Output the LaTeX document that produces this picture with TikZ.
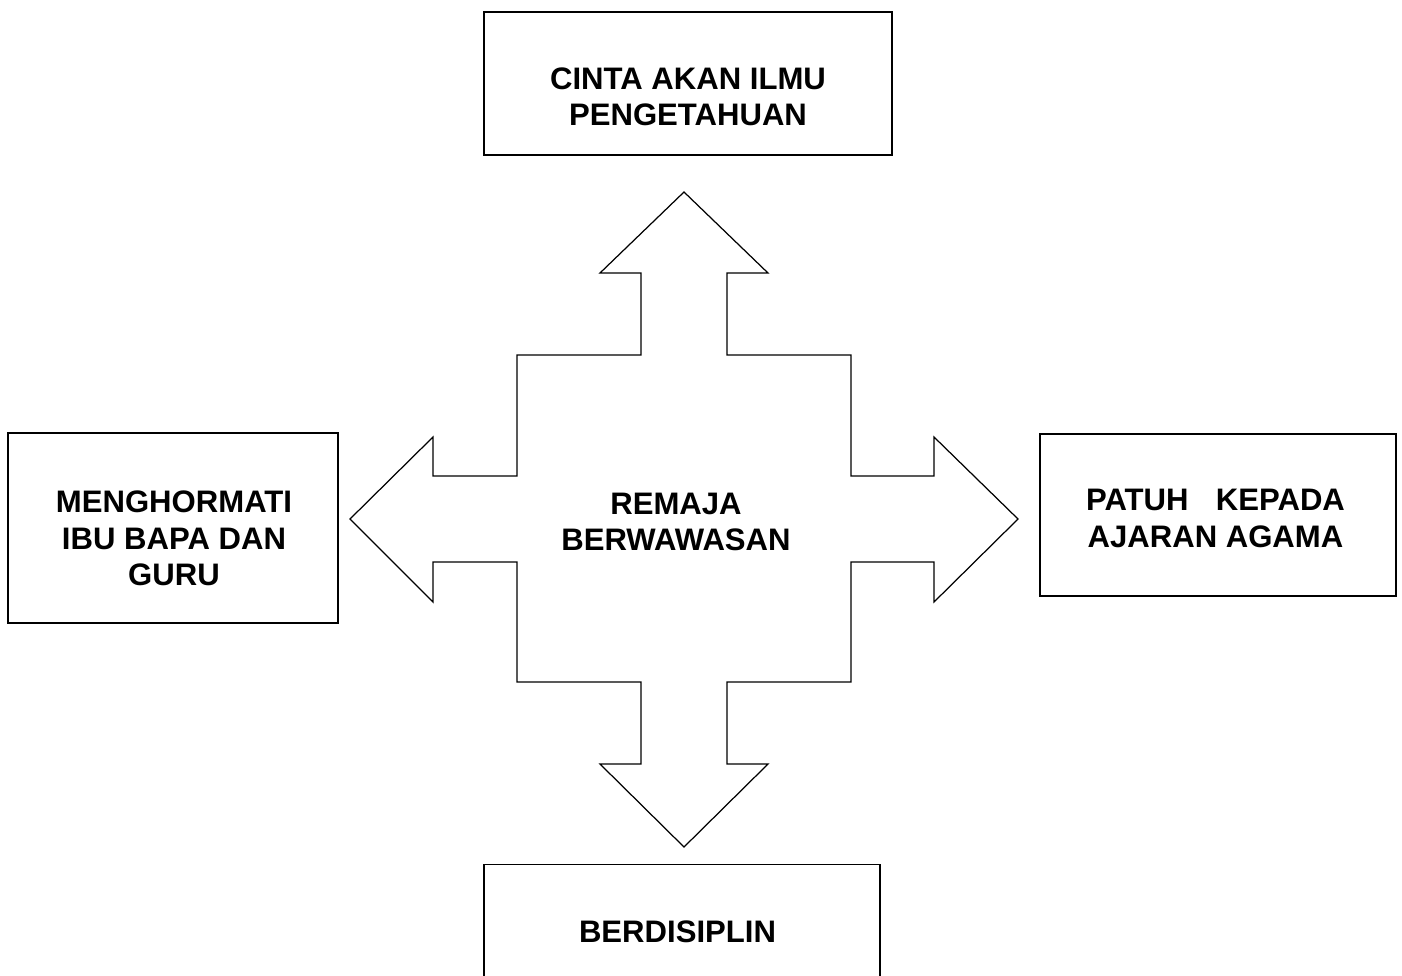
\documentclass[tikz,border=0pt]{standalone}
\usepackage{fontspec}
\setmainfont{Liberation Sans}

\begin{document}
\begin{tikzpicture}[x=0.02cm,y=-0.02cm,
  kotak/.style={draw, line width=0.9pt, inner sep=0pt},
  teks/.style={align=center, inner sep=0pt, font=\fontsize{17.7pt}{20.8pt}\selectfont\bfseries}]
\clip (0,0) rectangle (1402,975);

% kotak luar
\node[kotak, minimum width=8.16cm, minimum height=2.86cm] (ilmu) at (688,83.5) {};
\node[kotak, minimum width=6.6cm, minimum height=3.8cm] (hormat) at (173,528) {};
\node[kotak, minimum width=7.12cm, minimum height=3.24cm] (agama) at (1218,515) {};
\node[kotak, minimum width=7.92cm, minimum height=2.9cm] (disiplin) at (682,937) {};

% anak panah empat arah
\draw[line width=0.7pt] (684,192) -- (768,273) -- (727,273) -- (727,355) -- (851,355)
  -- (851,476) -- (934,476) -- (934,437) -- (1018,519) -- (934,602) -- (934,562)
  -- (851,562) -- (851,682) -- (727,682) -- (727,764) -- (768,764) -- (684,847)
  -- (600,764) -- (641,764) -- (641,682) -- (517,682) -- (517,562) -- (433,562)
  -- (433,602) -- (350,519) -- (433,437) -- (433,476) -- (517,476) -- (517,355)
  -- (641,355) -- (641,273) -- (600,273) -- cycle;

% teks
\node[teks] (ilmuT) at (688,97) {CINTA AKAN ILMU\\PENGETAHUAN};
\node[teks] (hormatT) at (174,538.5) {MENGHORMATI\\IBU BAPA DAN\\GURU};
\node[teks] (agamaT) at (1215.5,518.5) {PATUH\hspace{0.6em} KEPADA\\AJARAN AGAMA};
\node[teks] (remaja) at (676,522) {REMAJA\\BERWAWASAN};
\node[teks] (disiplinT) at (677.5,931.5) {BERDISIPLIN};
\end{tikzpicture}
\end{document}
